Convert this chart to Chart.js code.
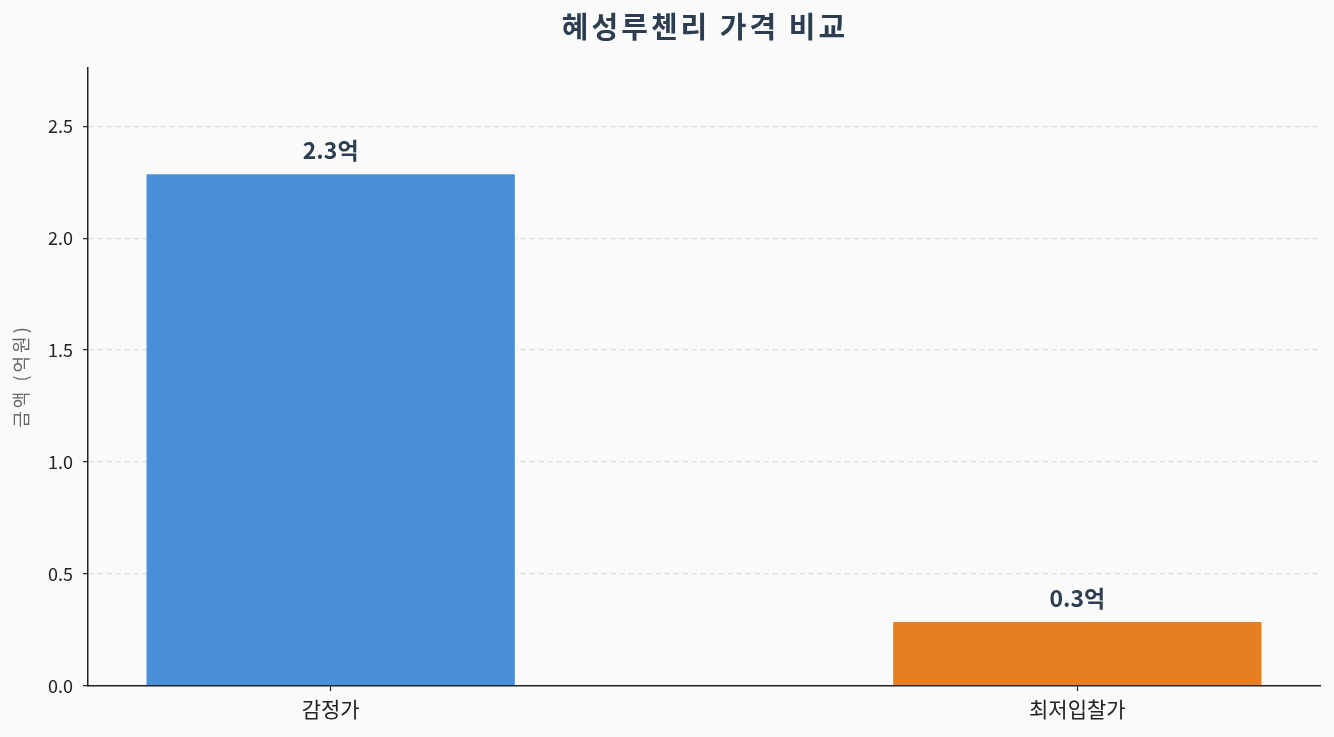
<!DOCTYPE html>
<html>
<head>
<meta charset="utf-8">
<script src="https://cdn.jsdelivr.net/npm/chart.js@4.4.1/dist/chart.umd.min.js"></script>
<style>
  html, body { margin: 0; padding: 0; background: #fafafa; }
  #wrap { width: 1334px; height: 737px; }
</style>
</head>
<body>
<div id="wrap"><canvas id="price_chart" width="1334" height="737"></canvas></div>
<script>
var categories = ['감정가', '최저입찰가'];
var values = [2.29, 0.29];
var barColors = ['#4a90d9', '#e67e22'];
var yTicks = [0.0, 0.5, 1.0, 1.5, 2.0, 2.5];

var chartTitle = '혜성루첸리 가격 비교';
var yTitle = '금액 (억원)';
var fontFamily = '"Noto Sans CJK KR", "Noto Sans", sans-serif';

// background + title + y label + value labels
var decorPlugin = {
    id: 'decor',
    beforeDraw: function (chart) {
        var ctx = chart.ctx;
        ctx.save();
        ctx.fillStyle = '#fafafa';
        ctx.fillRect(0, 0, chart.width, chart.height);
        ctx.restore();
    },
    afterDraw: function (chart) {
        var ctx = chart.ctx;
        var area = chart.chartArea;
        ctx.save();
        ctx.fillStyle = '#2c3e50';
        ctx.font = 'bold 29px ' + fontFamily;
        ctx.letterSpacing = '3px';
        ctx.textAlign = 'center';
        ctx.textBaseline = 'middle';
        ctx.fillText(chartTitle, (area.left + area.right) / 2 + 1, 27);

        ctx.translate(21, (area.top + area.bottom) / 2);
        ctx.rotate(-Math.PI / 2);
        ctx.fillStyle = '#666666';
        ctx.font = '18px ' + fontFamily;
        ctx.letterSpacing = '3px';
        ctx.fillText(yTitle, 1, 0);
        ctx.restore();

        var meta = chart.getDatasetMeta(0);
        ctx.save();
        ctx.fillStyle = '#2c3e50';
        ctx.font = 'bold 23px ' + fontFamily;
        ctx.textAlign = 'center';
        ctx.textBaseline = 'alphabetic';
        meta.data.forEach(function (bar, i) {
            ctx.fillText(values[i].toFixed(1) + '억', bar.x, bar.y - 14);
        });
        ctx.restore();
    }
};

function chartInit() {
    var ctx = document.getElementById('price_chart').getContext('2d');
    var points = categories.map(function (c, i) { return { x: i, y: values[i] }; });

    new Chart(ctx, {
        type: 'bar',
        data: {
            datasets: [{
                data: points,
                backgroundColor: barColors,
                borderColor: '#ffffff',
                borderWidth: 1,
                categoryPercentage: 0.496,
                barPercentage: 1.0
            }]
        },
        options: {
            responsive: false,
            animation: false,
            devicePixelRatio: 1,
            layout: { padding: { top: 68, right: 14, bottom: 0, left: 0 } },
            plugins: {
                legend: { display: false },
                tooltip: { enabled: false },
                title: { display: false }
            },
            scales: {
                x: {
                    type: 'linear',
                    offset: false,
                    min: -0.325,
                    max: 1.325,
                    afterBuildTicks: function (scale) {
                        scale.ticks = categories.map(function (c, i) { return { value: i }; });
                    },
                    afterFit: function (scale) { scale.height = 51; },
                    ticks: {
                        callback: function (v) { return categories[v]; },
                        color: '#222222',
                        font: { family: fontFamily, size: 21 },
                        padding: 5,
                        maxRotation: 0
                    },
                    grid: {
                        offset: false,
                        drawOnChartArea: false,
                        drawTicks: true,
                        tickLength: 5,
                        tickColor: '#222222',
                        tickWidth: 1.2
                    },
                    border: { color: '#222222', width: 1.5 }
                },
                y: {
                    min: 0,
                    max: 2.76,
                    afterBuildTicks: function (scale) {
                        scale.ticks = yTicks.map(function (v) { return { value: v }; });
                    },
                    afterFit: function (scale) { scale.width = 88; },
                    ticks: {
                        callback: function (v) { return v.toFixed(1); },
                        color: '#222222',
                        font: { family: fontFamily, size: 18 },
                        padding: 10
                    },
                    grid: {
                        color: '#dddddd',
                        lineWidth: 1.3,
                        drawTicks: true,
                        tickLength: 5,
                        tickColor: '#222222',
                        tickWidth: 1.2
                    },
                    border: { color: '#222222', width: 1.5, dash: [5.5, 3.5] }
                }
            }
        },
        plugins: [decorPlugin]
    });
}
chartInit();
</script>
</body>
</html>
